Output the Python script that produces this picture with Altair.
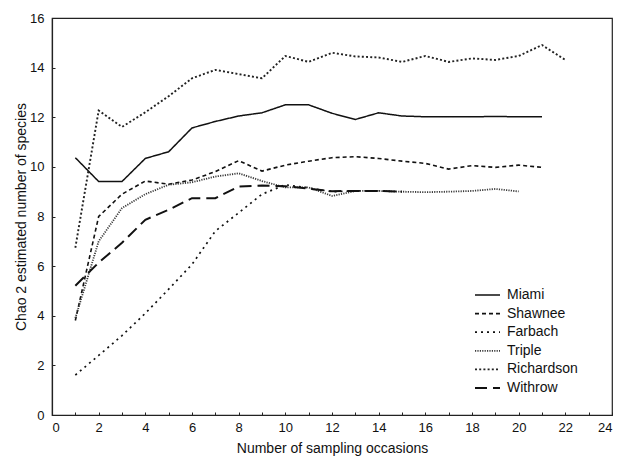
import altair as alt
import pandas as pd

sites = ["Miami", "Shawnee", "Farbach", "Triple", "Richardson", "Withrow"]

miami = [10.37, 9.41, 9.41, 10.34, 10.61, 11.57, 11.83, 12.05, 12.18, 12.5, 12.5,
         12.16, 11.91, 12.18, 12.05, 12.02, 12.02, 12.02, 12.03, 12.02, 12.02]
shawnee = [3.81, 8.0, 8.9, 9.43, 9.3, 9.47, 9.81, 10.25, 9.83, 10.07, 10.23,
           10.37, 10.41, 10.34, 10.23, 10.14, 9.91, 10.05, 9.98, 10.07, 9.98]
farbach = [1.61, 2.4, 3.2, 4.1, 5.07, 6.07, 7.41, 8.15, 8.9, 9.28, 9.15,
           9.0, 9.03, 9.03, 9.0]
triple = [3.9, 7.0, 8.34, 8.9, 9.28, 9.38, 9.61, 9.74, 9.43, 9.17, 9.17,
          8.83, 9.03, 9.03, 9.0, 8.98, 9.0, 9.03, 9.11, 9.01]
richardson = [6.74, 12.27, 11.61, 12.2, 12.85, 13.57, 13.91, 13.74, 13.57, 14.47, 14.23,
              14.6, 14.45, 14.41, 14.23, 14.47, 14.23, 14.37, 14.31, 14.47, 14.91, 14.31]
withrow = [5.21, 6.14, 6.94, 7.87, 8.27, 8.74, 8.74, 9.21, 9.25, 9.22, 9.12,
           9.02, 9.03, 9.03, 9.0]

series = [miami, shawnee, farbach, triple, richardson, withrow]

x_labels = list(range(0, 25, 2))
x_minor = list(range(0, 25))
y_labels = list(range(0, 17, 2))

rows = []
for name, vals in zip(sites, series):
    for i, v in enumerate(vals):
        rows.append({"site": name, "occ": i + 1, "chao": v})
df = pd.DataFrame(rows)

dash_range = [[1, 0], [4, 3], [2, 4], [1.2, 1.2], [2, 2.2], [12, 6]]
width_range = [1.5, 2, 1.8, 2.5, 1.6, 3]
color_range = ["#111111", "#111111", "#111111", "#3a3a3a", "#222222", "#111111"]

font = "Liberation Sans"

xscale = alt.Scale(domain=[0, 24], nice=False)
yscale = alt.Scale(domain=[0, 16], nice=False)

legend = alt.Legend(
    title=None, orient="none", legendX=422, legendY=270,
    labelFontSize=14, labelFont=font, labelColor="#111",
    symbolType="stroke", symbolSize=625, labelOffset=6,
    clipHeight=14, rowPadding=4.6, padding=0,
)

lines = alt.Chart(df).mark_line().encode(
    x=alt.X("occ:Q", scale=xscale,
            axis=alt.Axis(title="Number of sampling occasions", values=x_labels,
                          ticks=False, grid=False, labelPadding=6, titlePadding=7,
                          labelFontSize=13, titleFontSize=14, labelFont=font,
                          titleFont=font, titleFontWeight="normal",
                          labelColor="#111", titleColor="#111",
                          domainColor="#222", domainWidth=1.2)),
    y=alt.Y("chao:Q", scale=yscale,
            axis=alt.Axis(title="Chao 2 estimated number of species", values=y_labels,
                          ticks=False, grid=False, labelPadding=8, titlePadding=1,
                          labelFontSize=13, titleFontSize=14, labelFont=font,
                          titleFont=font, titleFontWeight="normal",
                          labelColor="#111", titleColor="#111",
                          domainColor="#222", domainWidth=1.2)),
    detail="site:N",
    strokeDash=alt.StrokeDash("site:N", scale=alt.Scale(domain=sites, range=dash_range), legend=legend),
    strokeWidth=alt.StrokeWidth("site:N", scale=alt.Scale(domain=sites, range=width_range), legend=legend),
    color=alt.Color("site:N", scale=alt.Scale(domain=sites, range=color_range), legend=legend),
    order="occ:Q",
)

ticks_layer = alt.Chart(df).mark_line(opacity=0).encode(
    x=alt.X("occ:Q", scale=xscale,
            axis=alt.Axis(orient="bottom", title=None, values=x_minor, labels=False,
                          domain=False, grid=False, tickSize=3, offset=-3,
                          tickColor="#222", tickWidth=1)),
    y=alt.Y("chao:Q", scale=yscale,
            axis=alt.Axis(orient="left", title=None, values=y_labels, labels=False,
                          domain=False, grid=False, tickSize=3, offset=-3,
                          tickColor="#222", tickWidth=1)),
    detail="site:N",
)

chart = alt.layer(lines, ticks_layer).resolve_axis(
    x="independent", y="independent"
).properties(
    width=606, height=449,
    autosize=alt.AutoSizeParams(type="fit", contains="padding"),
    padding={"top": 4, "left": 6, "right": 1, "bottom": 2},
).configure_view(stroke="#222", strokeWidth=1.2)

chart.save("out.html", embed_options={"renderer": "svg", "actions": False})
